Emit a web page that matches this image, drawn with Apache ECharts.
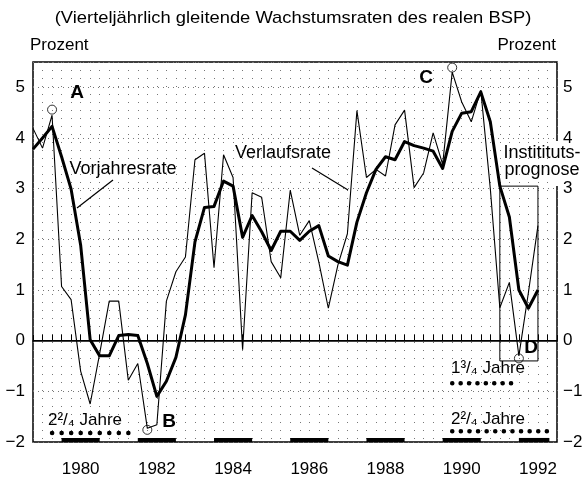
<!DOCTYPE html>
<html>
<head>
<meta charset="utf-8">
<title>Vierteljährlich gleitende Wachstumsraten des realen BSP</title>
<style>
  html, body { margin: 0; padding: 0; background: #fff; }
  #chart { width: 586px; height: 478px; }
</style>
</head>
<body>
<div id="chart"></div>
<script src="https://cdn.jsdelivr.net/npm/echarts@6/dist/echarts.min.js"></script>
<script>
// Quartalswerte, erster Wert = 1979 Q2 (x = Jahr + (Quartal-1)/4)
var startQuarter = 1979.25;

// dicke Linie: Vorjahresrate
var vorjahresrate = [
  3.78, 4.00, 4.23, 3.63, 2.99, 1.89, 0.02, -0.30, -0.30, 0.10,
  0.12, 0.10, -0.45, -1.10, -0.80, -0.33, 0.51, 1.95, 2.63, 2.65,
  3.15, 3.05, 2.04, 2.47, 2.15, 1.78, 2.16, 2.16, 1.98, 2.16,
  2.27, 1.67, 1.56, 1.49, 2.34, 2.92, 3.38, 3.63, 3.57, 3.93,
  3.85, 3.80, 3.74, 3.40, 4.13, 4.49, 4.52, 4.91, 4.32, 3.05,
  2.44, 1.00, 0.64, 1.00
];

// dünne Linie: Verlaufsrate
var verlaufsrate = [
  4.19, 3.80, 4.45, 1.07, 0.81, -0.60, -1.25, -0.25, 0.78, 0.78,
  -0.78, -0.45, -1.73, -1.66, 0.78, 1.36, 1.65, 3.57, 3.70, 1.44,
  3.67, 3.22, -0.18, 2.92, 2.83, 1.56, 1.24, 2.97, 2.08, 2.37,
  1.55, 0.64, 1.49, 2.11, 4.54, 3.22, 3.38, 3.25, 4.26, 4.55,
  3.02, 3.31, 4.10, 3.48, 5.30, 4.71, 4.32, 4.94, 3.00, 0.65,
  1.15, -0.30, 0.95, 2.27
];

// Beschriftete Jahre (Beschriftung in der Jahresmitte)
var yearLabels = [1980, 1982, 1984, 1986, 1988, 1990, 1992];

// schwarze Balken an der Zeitachse
var yearBars = [
  [1980, 1981], [1982, 1983], [1984, 1985], [1986, 1987],
  [1988, 1989], [1990, 1991], [1992, 1992.8]
];

// Wendepunkte A-D (Kreise)
var turnX = [1979.75, 1982.25, 1990.25, 1992.0];
var turnY = [4.56, -1.76, 5.39, -0.35];

// Punktreihen (Dauer zwischen den Wendepunkten)
var rowA_B = [[1979.75, -1.82], [1982.0, -1.82]];
var rowC_D = [[1990.25, -0.84], [1992.0, -0.84]];
var rowC_end = [[1990.25, -1.79], [1992.75, -1.79]];

// Institutsprognose-Kasten
var forecastBox = [[1991.5, 3.05], [1992.5, -0.4]];

var yMin = -2, yMax = 5.5;

function toXY(values) {
  return values.map(function (v, i) { return [startQuarter + i / 4, v]; });
}

var FONT = '"Liberation Sans", Arial, Helvetica, sans-serif';

function yLabel(v) {
  if (Math.abs(v - Math.round(v)) > 1e-6) return '';
  return String(Math.round(v)).replace('-', '\u2212');
}

var areas = yearBars.map(function (b) {
  return [{ xAxis: b[0], yAxis: yMin, itemStyle: { color: '#000', borderWidth: 0 } },
          { xAxis: b[1], yAxis: yMin + 0.08 }];
});
areas.push([{
  xAxis: forecastBox[0][0], yAxis: forecastBox[0][1],
  itemStyle: { color: 'rgba(0,0,0,0)', borderColor: '#000', borderWidth: 1 }
}, { xAxis: forecastBox[1][0], yAxis: forecastBox[1][1] }]);

function dotRow(data, step) {
  return {
    type: 'line', data: data, symbol: 'none', silent: true, z: 4,
    lineStyle: { color: '#000', width: 4.5, type: [0.1, step - 0.1], cap: 'round' }
  };
}

function txt(t, x, y, size, opts) {
  opts = opts || {};
  return {
    type: 'text', x: x, y: y, z: 100, scaleX: opts.scaleX || 1,
    style: {
      text: t, fill: '#000', font: (opts.bold ? 'bold ' : '') + size + 'px ' + FONT,
      textAlign: opts.align || 'center', textVerticalAlign: 'middle'
    }
  };
}

var chart = echarts.init(document.getElementById('chart'));
chart.setOption({
  animation: false,
  backgroundColor: '#fff',
  grid: {
    left: 33, right: 29, top: 62, bottom: 34,
    show: true, borderColor: '#000', borderWidth: 1.5, backgroundColor: 'transparent'
  },
  xAxis: {
    type: 'value', min: startQuarter, max: 1993, interval: 0.25,
    axisLine: { show: true, lineStyle: { color: '#000', width: 1.5 } },
    axisTick: { show: true, inside: true, length: 6, lineStyle: { color: '#000', width: 1 } },
    axisLabel: {
      color: '#000', fontSize: 17, fontFamily: FONT, margin: 19,
      formatter: function (v) {
        var y = Math.floor(v + 1e-9);
        if (Math.abs(v - y - 0.5) < 1e-6 && yearLabels.indexOf(y) >= 0) return String(y);
        return '';
      }
    },
    splitLine: { show: true, lineStyle: { color: '#777', width: 1, type: [1, 7] } }
  },
  yAxis: [{
    type: 'value', min: yMin, max: yMax, interval: 1,
    axisLine: { show: false }, axisTick: { show: false },
    axisLabel: { color: '#000', fontSize: 17, fontFamily: FONT, margin: 8, formatter: yLabel },
    splitLine: { show: true, lineStyle: { color: '#777', width: 1, type: [1, 4] } }
  }, {
    type: 'value', min: yMin, max: yMax, interval: 1, position: 'right',
    axisLine: { show: false }, axisTick: { show: false },
    axisLabel: { color: '#000', fontSize: 17, fontFamily: FONT, margin: 6, formatter: yLabel },
    splitLine: { show: false }
  }],
  series: [{
    name: 'Verlaufsrate', type: 'line', data: toXY(verlaufsrate),
    symbol: 'none', z: 3,
    lineStyle: { color: '#000', width: 1.1 },
    markLine: {
      silent: true, symbol: 'none', label: { show: false },
      lineStyle: { color: '#000', width: 1, type: 'solid' },
      data: [{ yAxis: 0 }]
    },
    markArea: { silent: true, label: { show: false }, data: areas }
  }, {
    name: 'Vorjahresrate', type: 'line', data: toXY(vorjahresrate),
    symbol: 'none', z: 5,
    lineStyle: { color: '#000', width: 3, join: 'round' }
  }, {
    type: 'scatter', z: 6, silent: true,
    data: turnX.map(function (x, i) { return [x, turnY[i]]; }),
    symbol: 'circle', symbolSize: 9,
    itemStyle: { color: 'rgba(0,0,0,0)', borderColor: '#000', borderWidth: 1 }
  },
    dotRow(rowA_B, 9.53),
    dotRow(rowC_D, 8.4),
    dotRow(rowC_end, 8.6)
  ],
  graphic: [
    txt('(Vierteljährlich gleitende Wachstumsraten des realen BSP)', 293, 18, 17, { scaleX: 1.08 }),
    txt('Prozent', 30, 45, 17, { align: 'left' }),
    txt('Prozent', 556, 45, 17, { align: 'right' }),
    { type: 'rect', z: 99, shape: { x: 550, y: 141, width: 12, height: 45 }, style: { fill: '#fff' } },
    txt('Institituts-', 542, 153, 18),
    txt('prognose', 542, 170, 18),
    txt('Vorjahresrate', 123, 169, 18),
    txt('Verlaufsrate', 283, 153, 18),
    { type: 'line', z: 100, shape: { x1: 113, y1: 180, x2: 77, y2: 208 }, style: { stroke: '#000', lineWidth: 1.2 } },
    { type: 'line', z: 100, shape: { x1: 312, y1: 168, x2: 348, y2: 190 }, style: { stroke: '#000', lineWidth: 1.2 } },
    txt('A', 77, 93, 19, { bold: true }),
    txt('B', 169, 422, 19, { bold: true }),
    txt('C', 426, 78, 19, { bold: true }),
    txt('D', 531, 348, 19, { bold: true }),
    txt('2\u00B2/\u2084 Jahre', 85, 420, 17),
    txt('1\u00B3/\u2084 Jahre', 488, 368, 17),
    txt('2\u00B2/\u2084 Jahre', 488, 419, 17)
  ]
});
</script>
</body>
</html>
